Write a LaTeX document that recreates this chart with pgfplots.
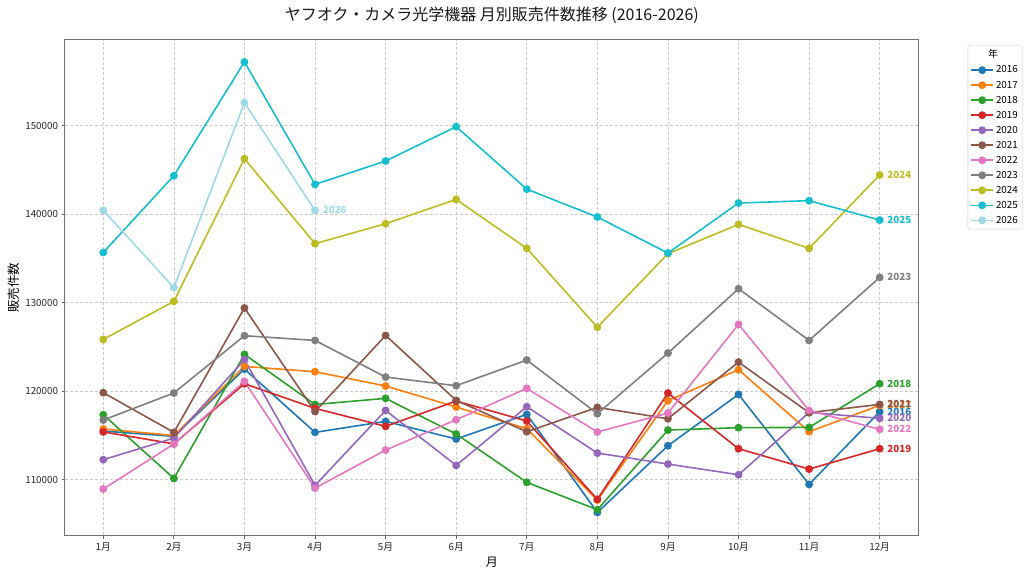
\documentclass[border=0pt]{standalone}
\usepackage{fontspec}
\setmainfont{Noto Sans CJK JP}
\usepackage{pgfplots}
\pgfplotsset{compat=1.18}
\definecolor{cA}{HTML}{1F77B4}
\definecolor{cB}{HTML}{FF7F0E}
\definecolor{cC}{HTML}{2CA02C}
\definecolor{cD}{HTML}{D62728}
\definecolor{cE}{HTML}{9467BD}
\definecolor{cF}{HTML}{8C564B}
\definecolor{cG}{HTML}{E377C2}
\definecolor{cH}{HTML}{7F7F7F}
\definecolor{cI}{HTML}{BCBD22}
\definecolor{cJ}{HTML}{17BECF}
\definecolor{cK}{HTML}{9EDAE5}
\tikzset{lbl/.style={anchor=west, xshift=7pt, inner sep=0pt, font=\fontsize{9.8}{11}\selectfont\bfseries}}
\begin{document}
\begin{tikzpicture}
\begin{axis}[
  scale only axis, width=853.7pt, height=495.3pt,
  xmin=0.4574, xmax=12.553, ymin=103718, ymax=159684,
  xtick={1,2,3,4,5,6,7,8,9,10,11,12},
  xticklabels={1月,2月,3月,4月,5月,6月,7月,8月,9月,10月,11月,12月},
  ytick={110000,120000,130000,140000,150000},
  scaled y ticks=false,
  yticklabel style={/pgf/number format/.cd, fixed, 1000 sep={}},
  /pgf/number format/assume math mode=true,
  ticklabel style={font=\fontsize{9.8}{11}\selectfont, text=black!85},
  xtick pos=bottom, ytick pos=left, tick align=outside,
  major tick length=3.5pt,
  tick style={black!60, line width=0.8pt},
  axis line style={black!55, line width=1pt},
  grid=major, grid style={densely dashed, black!20, line width=0.6pt},
  title={ヤフオク・カメラ光学機器 月別販売件数推移 (2016-2026)},
  title style={at={(axis description cs:0.5,1.0384)}, anchor=center, yshift=0pt, font=\fontsize{16}{18}\selectfont, text=black!90},
  xlabel={月}, xlabel style={at={(axis description cs:0.5,-0.0539)}, anchor=center, font=\fontsize{12}{14}\selectfont},
  ylabel={販売件数}, ylabel style={at={(axis description cs:-0.0597,0.5)}, anchor=center, font=\fontsize{12.5}{14}\selectfont},
  legend cell align=left,
  legend style={at={(axis description cs:1,1)}, anchor=north west, xshift=49pt, yshift=-5pt,
    draw=black!20, rounded corners=2pt, font=\fontsize{9.8}{10}\selectfont,
    row sep=2.4pt, inner sep=2.5pt},
  legend image code/.code={\draw[mark repeat=2,mark phase=2] plot coordinates {(0pt,0pt)(11pt,0pt)(22pt,0pt)};},
  every axis plot/.append style={line width=1.6pt, mark=*, mark size=3.1pt, mark options={solid}},
]
\addlegendimage{empty legend}
\addlegendentry{\hspace*{-8pt}年}
\addplot[color=cA] coordinates {(1,115500)(2,114900)(3,122500)(4,115350)(5,116590)(6,114600)(7,117380)(8,106300)(9,113840)(10,119640)(11,109470)(12,117680)} node[pos=1, lbl, text=cA] {2016};
\addlegendentry{2016}
\addplot[color=cB] coordinates {(1,115730)(2,115000)(3,122800)(4,122200)(5,120590)(6,118210)(7,115760)(8,107700)(9,118930)(10,122430)(11,115420)(12,118400)} node[pos=1, lbl, text=cB] {2017};
\addlegendentry{2017}
\addplot[color=cC] coordinates {(1,117340)(2,110150)(3,124160)(4,118500)(5,119190)(6,115160)(7,109700)(8,106610)(9,115610)(10,115880)(11,115910)(12,120850)} node[pos=1, lbl, text=cC] {2018};
\addlegendentry{2018}
\addplot[color=cD] coordinates {(1,115400)(2,114050)(3,120850)(4,118060)(5,116030)(6,118890)(7,116630)(8,107790)(9,119790)(10,113500)(11,111200)(12,113500)} node[pos=1, lbl, text=cD] {2019};
\addlegendentry{2019}
\addplot[color=cE] coordinates {(1,112260)(2,114700)(3,123560)(4,109360)(5,117830)(6,111620)(7,118250)(8,113010)(9,111770)(10,110560)(11,117600)(12,116930)} node[pos=1, lbl, text=cE] {2020};
\addlegendentry{2020}
\addplot[color=cF] coordinates {(1,119830)(2,115350)(3,129400)(4,117700)(5,126300)(6,118960)(7,115420)(8,118170)(9,116890)(10,123290)(11,117570)(12,118510)} node[pos=1, lbl, text=cF] {2021};
\addlegendentry{2021}
\addplot[color=cG] coordinates {(1,108950)(2,114030)(3,121100)(4,109050)(5,113350)(6,116780)(7,120320)(8,115390)(9,117530)(10,127550)(11,117830)(12,115690)} node[pos=1, lbl, text=cG] {2022};
\addlegendentry{2022}
\addplot[color=cH] coordinates {(1,116740)(2,119800)(3,126270)(4,125740)(5,121600)(6,120620)(7,123520)(8,117460)(9,124310)(10,131580)(11,125740)(12,132860)} node[pos=1, lbl, text=cH] {2023};
\addlegendentry{2023}
\addplot[color=cI] coordinates {(1,125850)(2,130150)(3,146270)(4,136670)(5,138930)(6,141670)(7,136140)(8,127230)(9,135540)(10,138850)(11,136140)(12,144430)} node[pos=1, lbl, text=cI] {2024};
\addlegendentry{2024}
\addplot[color=cJ] coordinates {(1,135680)(2,144350)(3,157200)(4,143370)(5,146010)(6,149890)(7,142830)(8,139680)(9,135610)(10,141260)(11,141530)(12,139340)} node[pos=1, lbl, text=cJ] {2025};
\addlegendentry{2025}
\addplot[color=cK] coordinates {(1,140430)(2,131700)(3,152600)(4,140430)} node[pos=1, lbl, text=cK] {2026};
\addlegendentry{2026}
\end{axis}
\pgfresetboundingbox
\path[use as bounding box] (-65pt,-34.7pt) rectangle (959pt,535.3pt);
\end{tikzpicture}
\end{document}
